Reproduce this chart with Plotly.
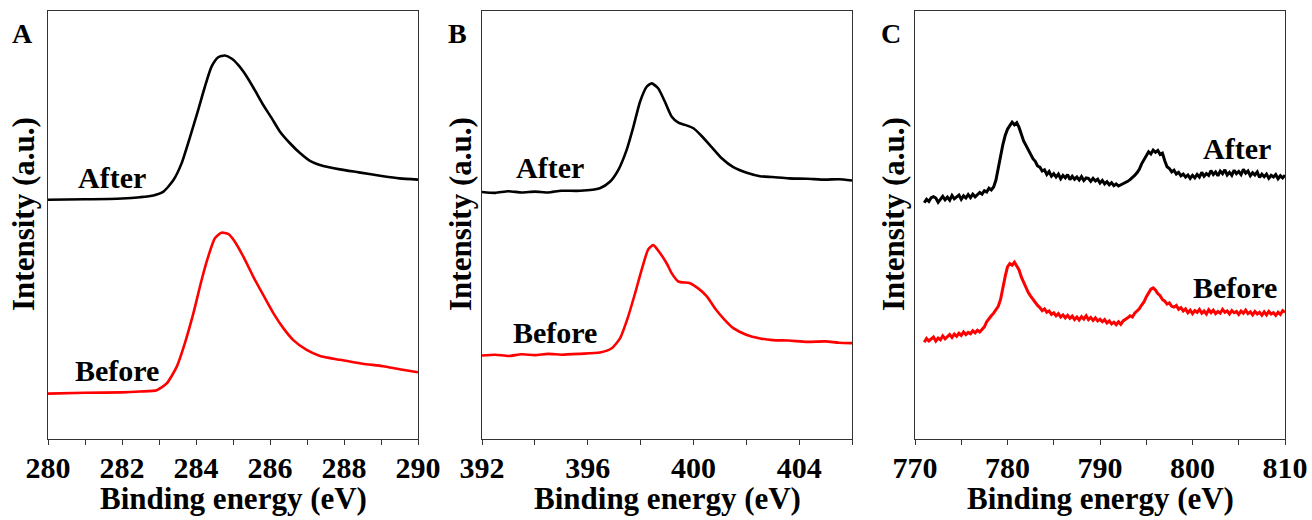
import plotly.graph_objects as go

W, H = 1312, 520

# ---------------- data (intensity in arbitrary units, axis 0..100) ----------------
# Panel A: C 1s
a_energy_after = [280.0, 281.0, 282.0, 282.49, 282.85, 283.12, 283.39, 283.61, 283.84, 284.06, 284.24,
                  284.42, 284.6, 284.78, 284.96, 285.14, 285.37, 285.59, 285.82, 286.05, 286.27,
                  286.54, 286.81, 287.08, 287.44, 287.89, 288.4, 289.06, 289.5, 290.0]
a_after = [55.9, 56.0, 56.2, 56.5, 56.9, 57.8, 60.5, 64.4, 70.6, 76.9, 82.3,
           87.0, 89.2, 89.6, 88.9, 87.4, 84.7, 81.5, 78.0, 74.9, 71.8,
           69.1, 66.8, 65.0, 63.8, 63.0, 62.3, 61.4, 60.9, 60.6]
a_energy_before = [280.0, 281.0, 282.0, 282.49, 282.94, 283.21, 283.48, 283.7, 283.93, 284.15, 284.33,
                   284.51, 284.69, 284.87, 285.05, 285.28, 285.55, 285.82, 286.09, 286.36,
                   286.63, 286.99, 287.35, 287.89, 288.5, 289.06, 289.5, 290.0]
a_before = [10.6, 10.8, 10.9, 11.1, 11.4, 13.0, 16.9, 22.4, 29.4, 37.1, 42.6,
            46.9, 48.2, 47.9, 46.1, 42.6, 37.9, 33.6, 29.4, 25.9,
            23.1, 20.8, 19.4, 18.5, 17.6, 17.0, 16.3, 15.6]

# Panel B: N 1s
b_energy_after = [392.0, 392.5, 393.0, 393.5, 394.0, 394.5, 395.0, 395.71, 396.46, 396.84, 397.16, 397.47,
                  397.73, 397.98, 398.23, 398.42, 398.67, 398.92, 399.18, 399.43, 399.68, 400.0,
                  400.31, 400.69, 401.07, 401.51, 402.02, 402.52, 403.0, 403.6, 404.3, 405.0,
                  405.5, 406.0]
b_after = [57.7, 57.5, 57.9, 57.6, 57.8, 57.6, 58.0, 58.0, 58.6, 60.1, 62.9, 67.5,
           73.0, 78.8, 82.3, 83.1, 81.9, 78.8, 75.3, 73.9, 73.4, 72.6,
           70.8, 68.2, 65.6, 63.5, 62.2, 61.4, 61.2, 60.9, 60.8, 60.6,
           60.7, 60.4]
b_energy_before = [392.0, 392.5, 393.0, 393.5, 394.0, 394.5, 395.0, 395.71, 396.46, 396.91, 397.22,
                   397.53, 397.79, 398.04, 398.29, 398.48, 398.73, 398.99, 399.18, 399.43, 399.87,
                   400.18, 400.5, 400.82, 401.13, 401.51, 402.02, 402.52, 403.0, 403.6, 404.3,
                   405.0, 405.5, 406.0]
b_before = [19.5, 19.7, 19.4, 19.8, 19.6, 19.9, 19.7, 19.9, 20.2, 21.2, 23.5,
            28.6, 34.0, 39.5, 44.3, 45.3, 43.5, 41.0, 38.7, 36.8, 36.4,
            35.2, 33.4, 30.5, 28.2, 25.9, 24.3, 23.5, 23.1, 23.0, 22.7,
            22.8, 22.5, 22.4]

# Panel C: Co 2p, 0.25 eV steps from 771.0 to 810.0
c_energy = [771.0 + 0.25 * i for i in range(157)]
c_after = [
    55.2, 56.0, 55.5, 56.4,  56.6, 56.3, 55.3, 56.0,  56.7, 55.9, 56.5, 55.8,  56.9, 56.1, 56.6, 57.0,
    56.0, 56.8, 56.3, 57.1,  56.4, 57.2, 56.6, 57.0,  57.6, 57.2, 58.0, 57.7,  58.6, 58.2, 58.9, 60.5,
    63.5, 66.4, 68.8, 70.9,  72.4, 73.2, 74.0, 73.4,  73.9, 72.8, 71.0, 69.6,  68.6, 67.5, 66.3, 65.5,
    64.9, 63.8, 63.5, 62.6,  62.9, 61.8, 62.5, 61.4,  62.0, 61.2, 61.9, 60.8,  61.6, 61.0, 61.8, 60.6,
    61.4, 60.7, 61.2, 60.5,  61.3, 60.4, 61.0, 60.9,  60.2, 60.9, 60.3, 60.7,  59.8, 60.4, 59.6, 60.1,
    59.4, 59.9, 59.2, 59.6,  59.1, 59.4, 59.6, 59.8,  60.2, 60.6, 61.0, 61.6,  62.2, 63.0, 64.3, 65.2,
    66.2, 67.1, 66.6, 67.5,  67.0, 67.4, 66.5, 66.8,  65.0, 63.6, 63.2, 62.4,  62.8, 61.9, 62.3, 61.5,
    61.9, 61.2, 61.7, 60.9,  61.6, 61.0, 61.8, 61.2,  62.3, 61.4, 62.0, 61.6,  62.7, 61.8, 62.4, 61.5,
    62.6, 62.0, 62.9, 61.7,  62.3, 61.6, 62.8, 62.0,  62.5, 61.8, 63.0, 62.1,  62.6, 61.5, 62.2, 61.7,
    62.4, 61.1, 61.9, 61.3,  61.9, 60.9, 61.6, 61.2,  61.8, 60.8, 61.5, 61.0,  61.6]
c_before = [
    22.6, 23.5, 22.9, 23.3,  23.8, 22.9, 23.6, 23.2,  24.1, 23.4, 23.9, 24.4,  23.7, 24.5, 24.0, 24.7,
    24.2, 25.0, 24.4, 24.9,  24.6, 25.3, 24.8, 25.4,  25.0, 25.6, 26.2, 27.4,  28.2, 28.8, 29.4, 30.2,
    31.0, 32.6, 35.5, 38.0,  40.2, 41.0, 40.6, 41.3,  40.4, 39.5, 37.8, 36.6,  35.3, 34.2, 33.4, 32.6,
    31.9, 31.2, 30.7, 30.0,  30.4, 29.6, 29.9, 29.1,  29.5, 28.8, 29.3, 28.5,  29.0, 28.3, 28.9, 28.2,
    28.7, 27.9, 28.5, 27.8,  28.6, 28.0, 28.8, 27.9,  28.4, 27.7, 28.3, 27.6,  28.0, 27.4, 27.9, 27.1,
    27.6, 26.9, 27.3, 26.7,  27.4, 26.8, 27.6, 27.9,  28.3, 28.8, 28.5, 29.4,  29.9, 30.4, 31.3, 32.0,
    33.2, 34.2, 35.0, 35.3,  34.8, 34.0, 33.5, 32.6,  32.2, 31.5, 31.8, 31.0,  30.8, 31.2, 30.3, 30.7,
    29.9, 30.4, 29.5, 30.1,  29.3, 30.0, 29.6, 30.3,  29.4, 29.9, 29.2, 30.2,  29.5, 30.1, 29.3, 29.8,
    29.4, 30.3, 29.6, 29.9,  29.2, 30.0, 29.5, 29.8,  29.1, 29.9, 29.4, 30.1,  29.3, 29.7, 29.0, 29.8,
    29.2, 29.6, 28.9, 29.7,  29.0, 29.8, 29.2, 29.5,  28.9, 29.6, 29.1, 30.0,  29.6]

panels = [
    dict(letter="A", xa=(a_energy_after, a_after), xb=(a_energy_before, a_before),
         rng=[280, 290], dtick=2, minor=1, shape="spline"),
    dict(letter="B", xa=(b_energy_after, b_after), xb=(b_energy_before, b_before),
         rng=[392, 406], dtick=4, minor=2, shape="spline"),
    dict(letter="C", xa=(c_energy, c_after), xb=(c_energy, c_before),
         rng=[770, 810], dtick=10, minor=5, shape="linear"),
]

# ---------------- layout geometry (pixels) ----------------
px_domains = [(48, 418), (482, 852), (915, 1285)]
top_px, bot_px = 11, 439
ydom = [1 - bot_px / H, 1 - top_px / H]

FONT = "Liberation Serif"
fig = go.Figure()
axis_common = dict(showline=True, mirror=True, linecolor="#333", linewidth=1.3,
                   showgrid=False, zeroline=False, automargin=False)

for i, p in enumerate(panels):
    n = "" if i == 0 else str(i + 1)
    xr, yr = "x" + n, "y" + n
    lw = 2.6 if p["shape"] == "spline" else 3.0
    fig.add_trace(go.Scatter(x=p["xa"][0], y=p["xa"][1], mode="lines",
                             line=dict(color="black", width=lw, shape=p["shape"], smoothing=0.6),
                             xaxis=xr, yaxis=yr, showlegend=False))
    fig.add_trace(go.Scatter(x=p["xb"][0], y=p["xb"][1], mode="lines",
                             line=dict(color="#ff0000", width=lw, shape=p["shape"], smoothing=0.6),
                             xaxis=xr, yaxis=yr, showlegend=False))
    d0, d1 = px_domains[i]
    fig.update_layout(**{
        "xaxis" + n: dict(domain=[d0 / W, d1 / W], range=p["rng"], anchor=yr,
                          tickmode="linear", tick0=p["rng"][0], dtick=p["dtick"],
                          ticks="outside", ticklen=5, tickwidth=1.2, tickcolor="#333",
                          ticklabelstandoff=-3,
                          minor=dict(ticks="outside", dtick=p["minor"], ticklen=5,
                                     tickwidth=1.2, tickcolor="#333"),
                          tickfont=dict(family=FONT, size=30, color="black", weight="bold"),
                          **axis_common),
        "yaxis" + n: dict(domain=ydom, range=[0, 100], anchor=xr, showticklabels=False,
                          ticks="", **axis_common),
    })

# ---------------- text ----------------
def ann(text, px, py, size, angle=0):
    fig.add_annotation(text=text, x=px / W, y=1 - py / H, xref="paper", yref="paper",
                       showarrow=False, textangle=angle, xanchor="center", yanchor="middle",
                       font=dict(family=FONT, size=size, color="black", weight="bold"))

# panel letters
for letter, px in zip(["A", "B", "C"], [22, 458, 891]):
    ann(letter, px, 33, 28)
# x titles
for d0, d1 in px_domains:
    ann("Binding energy (eV)", (d0 + d1) / 2, 498, 31)
# y titles
for px in [23, 460, 893]:
    ann("Intensity (a.u.)", px, 214, 31, angle=-90)
# curve labels
ann("After", 112, 177, 30)
ann("Before", 117, 370, 30)
ann("After", 550, 168, 30)
ann("Before", 555, 332, 30)
ann("After", 1237, 148, 30)
ann("Before", 1235, 287, 30)

fig.update_layout(width=W, height=H, margin=dict(l=0, r=0, t=0, b=0, autoexpand=False),
                  paper_bgcolor="white", plot_bgcolor="white")
fig.write_html("out.html")
